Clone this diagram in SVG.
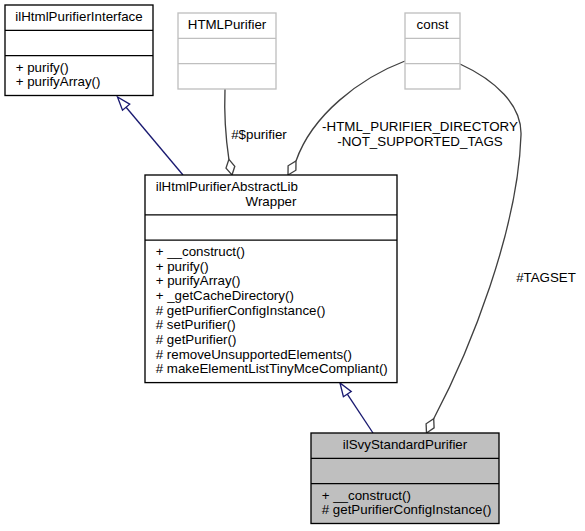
<svg xmlns="http://www.w3.org/2000/svg" width="585" height="531" viewBox="0 0 585 531">
<style>
text{font-family:"Liberation Sans",Arial,Helvetica,sans-serif;font-size:13.33px;fill:#000}
.m{text-anchor:middle}
.box{fill:#fff;stroke:#000;stroke-width:1.33}
.ext{fill:#fff;stroke:#bfbfbf;stroke-width:1.33}
.cur{fill:#bfbfbf;stroke:#000;stroke-width:1.33}
.sep{stroke:#000;stroke-width:1.33}
.sepx{stroke:#bfbfbf;stroke-width:1.33}
.inh{fill:none;stroke:#191970;stroke-width:1.33}
.inhh{fill:#fff;stroke:#191970;stroke-width:1.33}
.use{fill:none;stroke:#404040;stroke-width:1.33}
.useh{fill:#fff;stroke:#404040;stroke-width:1.33}
</style>
<rect width="585" height="531" fill="#fff"/>
<g id="connectors">
<path class="inh" d="M183,175 L126.1,107.2"/>
<polygon class="inhh" points="117.5,97 122.5,110.2 129.7,104.2"/>
<path class="inh" d="M373,433 L347.3,394.1"/>
<polygon class="inhh" points="340,383 343.4,396.7 351.2,391.5"/>
<path class="use" d="M225,89 C224,115 226,140 228.9,159.3"/>
<polygon class="useh" points="232,175 234.8,166.3 228.9,159.3 226,168.1"/>
<text class="m" x="259" y="139">#$purifier</text>
<path class="use" d="M405,61 C360,78 312,115 296,161"/>
<polygon class="useh" points="288,175 295.9,170.2 296,161 288.1,165.8"/>
<text class="m" x="420" y="131">-HTML_PURIFIER_DIRECTORY</text>
<text class="m" x="420" y="146">-NOT_SUPPORTED_TAGS</text>
<path class="use" d="M460,64 C495,80 522,105 521,135 C518,230 470,350 433.7,418.7"/>
<polygon class="useh" points="426.5,433 434.1,427.8 433.7,418.7 426.1,423.8"/>
<text class="m" x="546" y="282">#TAGSET</text>
</g>
<g id="ilHtmlPurifierInterface">
<rect class="box" x="5" y="5" width="148" height="90.5"/>
<line class="sep" x1="5" y1="30.3" x2="153" y2="30.3"/>
<line class="sep" x1="5" y1="55.7" x2="153" y2="55.7"/>
<text class="m" x="79" y="21">ilHtmlPurifierInterface</text>
<text x="15.7" y="71.7">+ purify()</text>
<text x="15.7" y="86.3">+ purifyArray()</text>
</g>
<g id="HTMLPurifier">
<rect class="ext" x="178" y="13" width="98" height="76"/>
<line class="sepx" x1="178" y1="38.3" x2="276" y2="38.3"/>
<line class="sepx" x1="178" y1="63.7" x2="276" y2="63.7"/>
<text class="m" x="227" y="29">HTMLPurifier</text>
</g>
<g id="const">
<rect class="ext" x="405" y="13" width="55" height="76"/>
<line class="sepx" x1="405" y1="38.3" x2="460" y2="38.3"/>
<line class="sepx" x1="405" y1="63.7" x2="460" y2="63.7"/>
<text class="m" x="432.5" y="29">const</text>
</g>
<g id="ilHtmlPurifierAbstractLibWrapper">
<rect class="box" x="145" y="175" width="252" height="207.6"/>
<line class="sep" x1="145" y1="214.8" x2="397" y2="214.8"/>
<line class="sep" x1="145" y1="240.1" x2="397" y2="240.1"/>
<text x="155.7" y="191">ilHtmlPurifierAbstractLib</text>
<text class="m" x="271" y="205.7">Wrapper</text>
<text x="155.7" y="256.1">+ __construct()</text>
<text x="155.7" y="270.8">+ purify()</text>
<text x="155.7" y="285.4">+ purifyArray()</text>
<text x="155.7" y="300.1">+ _getCacheDirectory()</text>
<text x="155.7" y="314.8"># getPurifierConfigInstance()</text>
<text x="155.7" y="329.4"># setPurifier()</text>
<text x="155.7" y="344.1"># getPurifier()</text>
<text x="155.7" y="358.8"># removeUnsupportedElements()</text>
<text x="155.7" y="373.4"># makeElementListTinyMceCompliant()</text>
</g>
<g id="ilSvyStandardPurifier">
<rect class="cur" x="311" y="433" width="188" height="90.5"/>
<line class="sep" x1="311" y1="458.3" x2="499" y2="458.3"/>
<line class="sep" x1="311" y1="483.7" x2="499" y2="483.7"/>
<text class="m" x="405" y="449">ilSvyStandardPurifier</text>
<text x="321.7" y="499.7">+ __construct()</text>
<text x="321.7" y="514.3"># getPurifierConfigInstance()</text>
</g>
</svg>
